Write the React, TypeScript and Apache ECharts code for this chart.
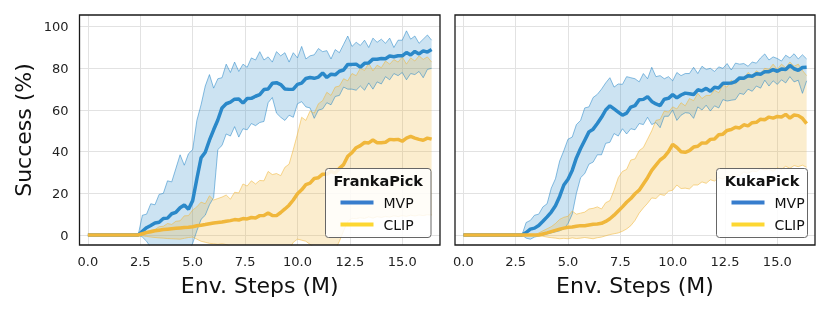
import React, { useEffect, useRef } from "react";
import * as echarts from "echarts";

// Env. steps (M) sample grid
const steps = [
  0, 0.2, 0.4, 0.6, 0.8, 1, 1.2, 1.4, 1.6, 1.8, 2, 2.2, 2.4, 2.6, 2.8,
  3, 3.2, 3.4, 3.6, 3.8, 4, 4.2, 4.4, 4.6, 4.8, 5, 5.2, 5.4, 5.6, 5.8,
  6, 6.2, 6.4, 6.6, 6.8, 7, 7.2, 7.4, 7.6, 7.8, 8, 8.2, 8.4, 8.6, 8.8,
  9, 9.2, 9.4, 9.6, 9.8, 10, 10.2, 10.4, 10.6, 10.8, 11, 11.2, 11.4, 11.6, 11.8,
  12, 12.2, 12.4, 12.6, 12.8, 13, 13.2, 13.4, 13.6, 13.8, 14, 14.2, 14.4, 14.6, 14.8,
  15, 15.2, 15.4, 15.6, 15.8, 16, 16.2, 16.4,
];

const xTicks = [0, 2.5, 5, 7.5, 10, 12.5, 15];
const yTicks = [0, 20, 40, 60, 80, 100];

// ---------- FrankaPick ----------
const frankaMvpMean = [
  0, 0, 0, 0, 0, 0, 0, 0, 0, 0, 0, 0, 0, 1.8, 3.5,
  4.6, 5.8, 6.1, 7.9, 8.1, 10.2, 10.9, 13.1, 14.4, 12.4,
  16.5, 27, 37, 39.7, 45.5, 50.5, 55.2, 61, 63, 63.8,
  65.2, 65.3, 63.3, 65.5, 65.6, 66.6, 67.4, 69.8, 70.1, 72.8,
  73.1, 72.2, 70.1, 69.9, 70, 72.3, 72.9, 75.1, 75.6, 75.2,
  75.8, 77.8, 75.6, 77.2, 76.9, 78.6, 79.2, 81.9, 81.9, 82,
  80.6, 82.4, 82.6, 84.4, 84.4, 84.7, 84.6, 85.9, 85.6, 86,
  86, 87.6, 86.4, 88.1, 86.9, 88.4, 87.8, 89,
];
const frankaMvpUpper = [
  0, 0, 0, 0, 0, 0, 0, 0, 0, 0, 0, 0, 0, 9.5, 10,
  15, 14.5, 19.5, 20, 26, 25.5, 32, 38.5, 33.5, 39,
  41, 55, 62.5, 71.5, 77, 70.5, 75, 75.5, 82, 78,
  83, 78.5, 82, 80.5, 85, 84, 88, 84, 85.5, 83,
  88, 86, 87.5, 83, 87.5, 85, 90.5, 84.5, 86, 86.5,
  89.5, 88, 88.5, 84.5, 89, 87.5, 91.5, 95.5, 90.5, 92.5,
  91, 93.5, 90, 94.5, 92.5, 94, 92, 94.5, 90, 93.5,
  93.5, 98, 94, 95.5, 92, 94, 96, 93.5,
];
const frankaMvpLower = [
  0, 0, 0, 0, 0, 0, 0, 0, 0, 0, 0, 0, 0, -1, -3,
  -6, -8, -8, -8, -8, -8, -8, -8, -8, -8,
  -4, 2, 7.5, 9.5, 14.5, 18, 41, 43, 48.5, 47.5,
  52, 47, 51, 50.5, 53.5, 52.5, 54, 54.5, 63.5, 66,
  58.5, 56.5, 55, 57.5, 56.5, 63, 64, 61.5, 61, 56,
  60, 60.5, 63.5, 62.5, 66.5, 67, 71, 70, 70, 69.5,
  71.5, 69.5, 73, 70, 73.5, 72.5, 76, 74.5, 77.5, 76.5,
  78, 74.5, 77.5, 77, 78.5, 75.5, 79.5, 80,
];
const frankaClipMean = [
  0, 0, 0, 0, 0, 0, 0, 0, 0, 0, 0, 0, 0, 0.6, 1.2,
  1.6, 2, 2.3, 2.6, 2.8, 3, 3.2, 3.4, 3.6, 3.7,
  4, 4.4, 4.7, 5, 5.4, 5.8, 6, 6.2, 6.6, 6.9,
  7.4, 7.2, 7.9, 7.7, 8.4, 8.2, 9.3, 9.4, 10.6, 9.4,
  9.3, 10.8, 12.5, 14.3, 16.8, 19.8, 21.7, 24.2, 24.9, 27.1,
  27.5, 29.2, 29.3, 30.6, 29.7, 32, 33.8, 37.8, 39.5, 41.9,
  42.9, 44.4, 44.2, 45.6, 44.3, 44.3, 44.5, 45.9, 45.7, 45.9,
  45, 46.5, 47.3, 46.5, 45.9, 45.5, 46.5, 46,
];
const frankaClipUpper = [
  0, 0, 0, 0, 0, 0, 0, 0, 0, 0, 0, 0, 0, 0.8, 1.5,
  2.3, 2.6, 4, 4.2, 5.5, 5.1, 6.6, 6.8, 9.2, 9.3,
  12, 13.5, 15.8, 15, 18.8, 16.8, 17.5, 18.2, 19.2, 17.2,
  20.5, 20.2, 24.5, 23.5, 26, 24.5, 26.2, 26, 30.5, 29,
  29.5, 28.5, 32.5, 34, 41, 48.5, 56.5, 55, 59.5, 58.5,
  63, 64.5, 68.5, 67, 71, 71.5, 75, 74, 77.5, 76.5,
  80, 79, 82.5, 78.8, 81.5, 80.3, 83.5, 82, 84.2, 83,
  85.5, 82, 85, 83.5, 86, 84.3, 85.5, 83,
];
const frankaClipLower = [
  0, 0, 0, 0, 0, 0, 0, 0, 0, 0, 0, 0, 0, -0.4, -0.7,
  -1, -1.2, -1.4, -1.5, -1.7, -1.8, -1.9, -2, -1.6, -1.2,
  -1, -2, -3, -3.5, -4, -4.2, -4.5, -4.2, -4.6, -5.5,
  -7, -7, -7, -7, -7, -7, -7, -7, -7, -7,
  -7, -7, -7, -7, -3.5, -2, -2.5, -3, -4.5, -6,
  -7, -7, -7, -7, -7, -3, 2, 6.5, 8, 7.8,
  8.3, 7.9, 8.7, 8.1, 8.8, 8.4, 8.9, 8.6, 9.2, 8.8,
  9.3, 8.9, 9.5, 9.1, 9.6, 9.3, 9.7, 9.6,
];

// ---------- KukaPick ----------
const kukaMvpMean = [
  0, 0, 0, 0, 0, 0, 0, 0, 0, 0, 0, 0, 0, 0, 0,
  1.2, 2.8, 3.3, 4.6, 6.6, 8.7, 11, 14, 18.5, 24,
  26.8, 31, 37, 41.5, 45.5, 49.5, 50.8, 53.5, 56.5, 60,
  62, 60.5, 59, 57.5, 58.5, 61.4, 62.1, 64.9, 65.1, 66.4,
  64.1, 62.9, 62.1, 65.2, 65.6, 67.4, 65.8, 67.2, 68.1, 67.8,
  67.4, 69.7, 69.2, 70.4, 69, 70.9, 70.6, 72.8, 72.8, 72.9,
  73.6, 75.4, 75.2, 76.4, 76.2, 77.4, 77.2, 78.4, 78.4, 79.4,
  78.6, 79.7, 79.4, 81.4, 79.8, 79, 80.4, 80.5,
];
const kukaMvpUpper = [
  0, 0, 0, 0, 0, 0, 0, 0, 0, 0, 0, 0, 0, 0, 0,
  6, 7, 9.5, 10, 13.5, 15, 22.5, 27, 35.5, 40.5,
  46, 47, 53, 55, 61, 61.5, 66, 67.5, 70, 73,
  75.5, 71, 72.5, 72.3, 76, 75.5, 75, 73.5, 77.5, 75,
  80.5, 76, 76.5, 75, 76, 74, 78, 76.5, 77.5, 77.5,
  80.5, 77.5, 81, 79.5, 80, 78.5, 80.7, 80, 82.3, 79.2,
  82.5, 82, 82.3, 81, 83, 82.5, 85, 86.9, 84, 85.5,
  84.7, 83.5, 86.3, 85, 87, 84.5, 86.5, 84.5,
];
const kukaMvpLower = [
  0, 0, 0, 0, 0, 0, 0, 0, 0, 0, 0, 0, 0, 0, 0,
  -1.5, -2, -1, -0.5, 0, 0.5, 1, 1.5, 2, 3,
  5.5, 10, 20, 27.5, 29.5, 34, 35, 38.5, 38.5, 44,
  44.5, 48.7, 47.5, 51, 48.5, 51, 50.5, 53.5, 53, 56.5,
  53, 54, 51.5, 57, 57, 60, 55, 57.5, 58.7, 58.5,
  56, 61.5, 60, 62.3, 59.5, 62, 61, 65, 64.3, 64.7,
  65, 68, 67.5, 70, 69, 71.5, 70.5, 74.3, 71.5, 74,
  72.3, 74.5, 73, 76, 73.5, 74.3, 68, 74,
];
const kukaClipMean = [
  0, 0, 0, 0, 0, 0, 0, 0, 0, 0, 0, 0, 0, 0, 0,
  0, 0, 0, 0, 0.5, 1, 1.6, 2.2, 2.8, 3.3,
  3.7, 3.8, 4.2, 4.5, 4.4, 4.8, 5.2, 5.3, 5.6, 6.5,
  7.8, 9.5, 11.5, 13.5, 15.7, 17.5, 19.8, 21.5, 24.5, 27.5,
  31, 33.5, 36, 37.5, 40, 43.5, 42, 40, 39.7, 40.5,
  42.2, 42.6, 44.2, 44.1, 45.9, 46.1, 48.1, 48.4, 50.2, 50.6,
  51.7, 51.4, 52.9, 52.4, 53.9, 54.1, 55.6, 55.3, 56.6, 56.1,
  56.9, 56.6, 57.9, 56.1, 57.6, 57.3, 56, 53.5,
];
const kukaClipUpper = [
  0, 0, 0, 0, 0, 0, 0, 0, 0, 0, 0, 0, 0, 0, 0,
  0, 0, 0, 1, 2, 3, 4, 5.5, 7.5, 8.5,
  9, 11.5, 10, 10.5, 11, 12.5, 12.8, 13.5, 12.5, 15.5,
  16.5, 21.5, 27.5, 30.5, 31.5, 36, 36.5, 40.5, 42, 46,
  50, 55, 55.5, 59.5, 59, 61.5, 60.5, 63.5, 62, 65.5,
  64.5, 68, 65.5, 67, 67, 69.5, 68.3, 72, 71, 74.3,
  72.5, 75.5, 75, 78, 76.3, 78.8, 77.5, 80, 79.5, 82,
  79.5, 82, 80.3, 83, 81, 82, 79, 76.5,
];
const kukaClipLower = [
  0, 0, 0, 0, 0, 0, 0, 0, 0, 0, 0, 0, 0, 0, 0,
  0, 0, 0, -0.3, -0.6, -1, -1.3, -1.5, -1.8, -1.6,
  -1.8, -1.4, -1.7, -1.5, -1.2, -1.5, -1.8, -1.3, -1, -0.4,
  0.2, 0.6, 1, 1.8, 2.9, 4.5, 7, 10.5, 13, 15.2,
  17.8, 17.5, 19.5, 19, 21, 21.5, 24, 22.3, 22.5, 22.1,
  24, 24, 25.5, 24.8, 26.5, 25.9, 27.5, 26.8, 28.3, 28,
  29, 28.5, 30.3, 29.5, 30.7, 30.4, 31.8, 31.2, 31.7, 30.5,
  32.2, 31.5, 33, 32, 33.3, 32.8, 33.5, 32.5,
];

const panels = [
  { title: "FrankaPick", mvp: [frankaMvpMean, frankaMvpUpper, frankaMvpLower], clip: [frankaClipMean, frankaClipUpper, frankaClipLower] },
  { title: "KukaPick", mvp: [kukaMvpMean, kukaMvpUpper, kukaMvpLower], clip: [kukaClipMean, kukaClipUpper, kukaClipLower] },
];

const FONT = "DejaVu Sans";
const BLUE = "#2a88c9";
const YELLOW = "#f0b73b";
const LEG_BLUE = "#377dcd";
const LEG_YELLOW = "#fdd732";

const pairs = (ys: number[]) => steps.map((x, i) => [x, ys[i]]);

function band(idx: number, upper: number[], lower: number[], color: string, opacity: number) {
  return {
    type: "custom",
    xAxisIndex: idx,
    yAxisIndex: idx,
    clip: true,
    silent: true,
    z: 2,
    data: [[0, 0]],
    renderItem: (params: any, api: any) => {
      const pts: number[][] = [];
      for (let i = 0; i < steps.length; i++) pts.push(api.coord([steps[i], upper[i]]));
      for (let i = steps.length - 1; i >= 0; i--) pts.push(api.coord([steps[i], lower[i]]));
      const cs = params.coordSys;
      return {
        type: "polygon",
        shape: { points: pts },
        style: { fill: color, opacity },
        clipPath: { type: "rect", shape: { x: cs.x, y: cs.y, width: cs.width, height: cs.height } },
      };
    },
  };
}

function line(idx: number, ys: number[], color: string, width: number, opacity: number, z: number) {
  return {
    type: "line",
    xAxisIndex: idx,
    yAxisIndex: idx,
    data: pairs(ys),
    showSymbol: false,
    symbol: "none",
    silent: true,
    z,
    lineStyle: { color, width, opacity },
  };
}

export default function App() {
  const ref = useRef<HTMLDivElement>(null);
  useEffect(() => {
    if (!ref.current) return;
    const chart = echarts.init(ref.current, undefined, { renderer: "svg" });
    const grids = [
      { left: 79.5, top: 15, width: 360.5, height: 230 },
      { left: 455, top: 15, width: 360, height: 230 },
    ];
    const series: any[] = [];
    panels.forEach((p, idx) => {
      series.push(band(idx, p.mvp[1], p.mvp[2], BLUE, 0.24));
      series.push(line(idx, p.mvp[1], BLUE, 1, 0.55, 3));
      series.push(line(idx, p.mvp[2], BLUE, 1, 0.55, 3));
      series.push(band(idx, p.clip[1], p.clip[2], YELLOW, 0.25));
      series.push(line(idx, p.clip[1], YELLOW, 1, 0.55, 3));
      series.push(line(idx, p.clip[2], YELLOW, 1, 0.55, 3));
      series.push(line(idx, p.mvp[0], BLUE, 3.5, 1, 4));
      series.push(line(idx, p.clip[0], YELLOW, 3.5, 1, 4));
    });

    const legend = (bx: number, by: number, bw: number, title: string) => ({
      type: "group",
      z: 100,
      children: [
        { type: "rect", z: 100, shape: { x: bx, y: by, width: bw, height: 69, r: 3 }, style: { fill: "rgba(255,255,255,0.85)", stroke: "#666", lineWidth: 1 } },
        { type: "text", z: 101, style: { text: title, x: bx + bw / 2, y: by + 12, align: "center", verticalAlign: "middle", fontFamily: FONT, fontWeight: "bold", fontSize: 14.5, fill: "#111" } },
        { type: "line", z: 101, shape: { x1: bx + 15, y1: by + 34, x2: bx + 48, y2: by + 34 }, style: { stroke: LEG_BLUE, lineWidth: 4 } },
        { type: "text", z: 101, style: { text: "MVP", x: bx + 58, y: by + 34, align: "left", verticalAlign: "middle", fontFamily: FONT, fontSize: 14, fill: "#111" } },
        { type: "line", z: 101, shape: { x1: bx + 15, y1: by + 56, x2: bx + 48, y2: by + 56 }, style: { stroke: LEG_YELLOW, lineWidth: 4 } },
        { type: "text", z: 101, style: { text: "CLIP", x: bx + 58, y: by + 56, align: "left", verticalAlign: "middle", fontFamily: FONT, fontSize: 14, fill: "#111" } },
      ],
    });

    chart.setOption({
      animation: false,
      textStyle: { fontFamily: FONT },
      grid: grids.map((g) => ({ ...g, show: false, containLabel: false })),
      xAxis: grids.map((_, i) => ({
        type: "value",
        gridIndex: i,
        min: -0.4,
        max: 16.8,
        axisLine: { show: false },
        axisTick: { show: false, customValues: xTicks },
        splitLine: { show: true, lineStyle: { color: "#e2e2e2", width: 1 } },
        axisLabel: {
          customValues: xTicks,
          formatter: (v: number) => v.toFixed(1),
          fontFamily: FONT,
          fontSize: 13,
          color: "#222",
          margin: 10,
        },
        name: "Env. Steps (M)",
        nameLocation: "middle",
        nameGap: 29,
        nameTextStyle: { fontFamily: FONT, fontSize: 22, color: "#111" },
      })),
      yAxis: grids.map((_, i) => ({
        type: "value",
        gridIndex: i,
        min: -4.8,
        max: 105.6,
        axisLine: { show: false },
        axisTick: { show: false, customValues: yTicks },
        splitLine: { show: true, lineStyle: { color: "#e2e2e2", width: 1 } },
        axisLabel: {
          show: i === 0,
          customValues: yTicks,
          fontFamily: FONT,
          fontSize: 13,
          color: "#222",
          margin: 11,
        },
        name: i === 0 ? "Success (%)" : "",
        nameLocation: "middle",
        nameGap: 45,
        nameTextStyle: { fontFamily: FONT, fontSize: 22, color: "#111" },
      })),
      series,
      graphic: [
        { type: "rect", z: 99, shape: { x: 79.5, y: 15, width: 360.5, height: 230 }, style: { fill: "none", stroke: "#1a1a1a", lineWidth: 1.3 } },
        { type: "rect", z: 99, shape: { x: 455, y: 15, width: 360, height: 230 }, style: { fill: "none", stroke: "#1a1a1a", lineWidth: 1.3 } },
        legend(325.5, 168.5, 105.5, "FrankaPick"),
        legend(716.5, 168.5, 91, "KukaPick"),
      ],
    });
    return () => chart.dispose();
  }, []);
  return <div ref={ref} style={{ position: "fixed", left: 0, top: 0, width: 830, height: 312 }} />;
}
